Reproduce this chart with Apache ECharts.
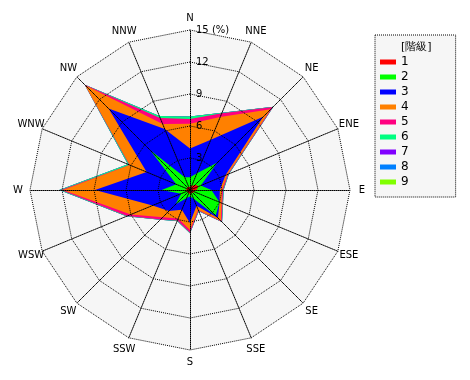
<!DOCTYPE html>
<html>
<head>
<meta charset="utf-8">
<script src="https://cdn.jsdelivr.net/npm/echarts@6/dist/echarts.min.js"></script>
<style>html,body{margin:0;padding:0;background:#fff;}#c{width:470px;height:380px;}</style>
</head>
<body>
<div id="c"></div>
<script>
// Directions, clockwise from north
const directions = ['N','NNE','NE','ENE','E','ESE','SE','SSE','S','SSW','SW','WSW','W','WNW','NW','NNW'];
const classNames = ['1','2','3','4','5','6','7','8','9'];
const classColors = ['#ff0000','#00ff00','#0000ff','#ff8000','#ff0080','#00ff80','#8000ff','#0080ff','#80ff00'];
const tickLabels = ['3','6','9','12','15 (%)'];
const axisMax = 15;
// Cumulative frequency (%) up to each class, clockwise from N
const cum1 = [0.3,0.4,0.7,0.9,0.6,0.4,0.4,0.3,0.4,0.3,0.3,0.3,0.4,0.3,0.4,0.3];
const cum2 = [1.2,1.7,3.6,1.1,2.0,3.0,3.4,0.9,0.6,0.8,1.9,0.9,2.65,1.4,5.3,1.3];
const cum3 = [3.9,5.1,9.7,3.6,2.8,3.0,3.7,1.6,3.1,2.0,2.8,3.8,8.9,4.4,10.8,6.2];
const cum4 = [6.2,7.4,10.7,3.8,3.0,3.2,4.1,2.0,3.75,2.9,3.6,6.0,11.9,6.1,13.9,6.7];
const cum5 = [6.65,7.8,11.0,3.9,3.1,3.3,4.2,2.1,4.0,3.1,3.9,6.4,12.1,6.15,13.95,7.3];
const cum6 = [6.9,7.85,11.05,3.95,3.15,3.35,4.25,2.15,4.05,3.15,3.95,6.45,12.25,6.3,13.95,7.5];
const cum7 = cum6.slice();
const cum8 = cum6.slice();
const cum9 = cum6.slice();
const cumulative = [cum1,cum2,cum3,cum4,cum5,cum6,cum7,cum8,cum9];

// ECharts radar places indicators counter-clockwise: reorder N, NNW, NW, ...
const order = [0].concat(directions.map((d,i)=>i).slice(1).reverse());
const indicator = order.map(i => ({name: directions[i], max: axisMax, min: 0}));

const FONT = 'DejaVu Sans';
const series = [];
for (let k = cumulative.length - 1; k >= 0; k--) {
  series.push({
    type: 'radar',
    radarIndex: 0,
    name: classNames[k],
    symbol: 'none',
    silent: true,
    z: 2,
    lineStyle: {width: 0, color: classColors[k]},
    itemStyle: {color: classColors[k]},
    areaStyle: {color: classColors[k], opacity: 1},
    data: [{value: order.map(i => cumulative[k][i]), name: classNames[k]}]
  });
}

const dotted = {color: '#000', type: [1, 1], width: 1};
const radarBase = {
  center: [190, 190],
  radius: 160,
  startAngle: 90,
  shape: 'polygon',
  splitNumber: 5,
  indicator: indicator
};

const chart = echarts.init(document.getElementById('c'), null, {renderer: 'canvas'});
chart.setOption({
  animation: false,
  backgroundColor: '#ffffff',
  title: {
    text: '[階級]',
    left: 396, top: 37,
    textStyle: {fontFamily: FONT, fontSize: 11, fontWeight: 'normal', color: '#000'}
  },
  legend: {
    data: classNames,
    orient: 'vertical',
    left: 375, top: 35,
    padding: [20, 47, 8, 5],
    itemWidth: 16, itemHeight: 5,
    itemGap: 1,
    icon: 'rect',
    borderColor: '#000', borderWidth: 1,
    borderType: [1, 1],
    backgroundColor: '#f6f6f6',
    textStyle: {fontFamily: FONT, fontSize: 12, color: '#000', lineHeight: 14}
  },
  radar: [
    Object.assign({}, radarBase, {
      z: 0,
      axisName: {show: false},
      splitArea: {show: true, areaStyle: {color: ['#f6f6f6']}},
      splitLine: {show: false},
      axisLine: {show: false},
      axisTick: {show: false}
    }),
    Object.assign({}, radarBase, {
      z: 5,
      axisName: {color: '#000', fontFamily: FONT, fontSize: 10, align: 'center', verticalAlign: 'middle'},
      nameGap: 12,
      splitArea: {show: false},
      splitLine: {lineStyle: dotted},
      axisLine: {lineStyle: dotted}
    })
  ],
  polar: {center: [190, 190], radius: 160},
  angleAxis: {show: false, startAngle: 90, min: 0, max: 360},
  radiusAxis: {
    min: 0, max: axisMax, interval: 3, z: 10,
    axisLine: {show: false}, axisTick: {show: false}, splitLine: {show: false},
    axisLabel: {
      fontFamily: FONT, fontSize: 10, color: '#000',
      align: 'left', verticalAlign: 'middle', padding: [0, 0, 6, 0], margin: -6,
      formatter: v => v === 0 ? '' : tickLabels[Math.round(v / 3) - 1]
    }
  },
  series: series
});
</script>
</body>
</html>
